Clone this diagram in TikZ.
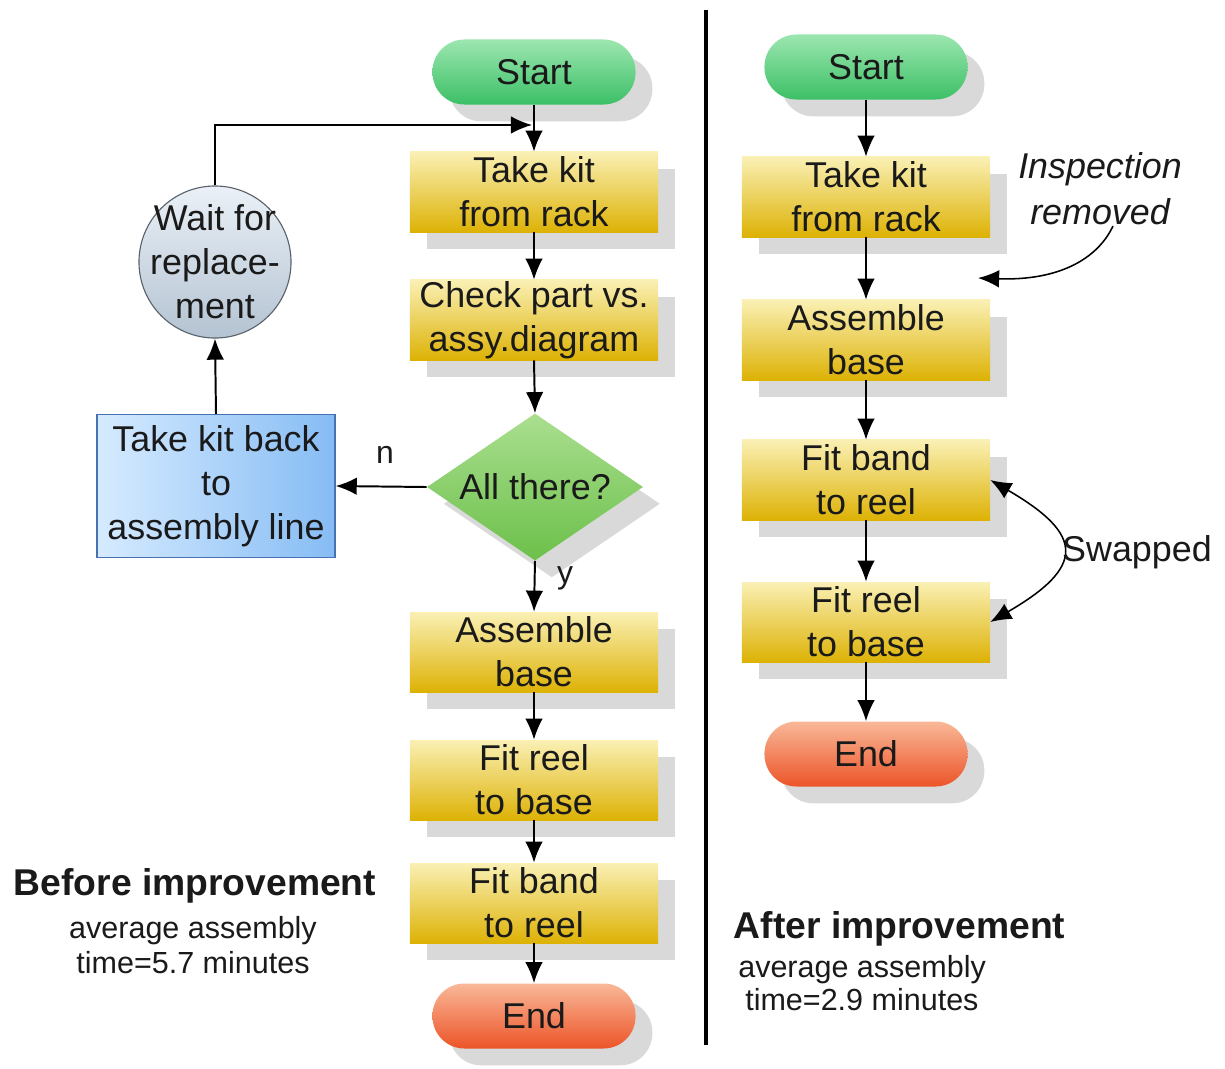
\documentclass[tikz,border=0pt]{standalone}
\usepackage{fontspec}
\setmainfont{Liberation Sans}
\usetikzlibrary{shapes.geometric,arrows.meta,shadows}
\definecolor{txt}{HTML}{1A1A1A}
\definecolor{ytop}{HTML}{FAF0B4}
\definecolor{ybot}{HTML}{DDB205}
\definecolor{gtop}{HTML}{9CE6B0}
\definecolor{gbot}{HTML}{3CC066}
\definecolor{rtop}{HTML}{F9B898}
\definecolor{rbot}{HTML}{EC5428}
\definecolor{btop}{HTML}{D6EBFF}
\definecolor{bbot}{HTML}{86BCF4}
\definecolor{bdraw}{HTML}{4672B4}
\definecolor{ctop}{HTML}{EAF0F6}
\definecolor{cbot}{HTML}{B4C3D2}
\definecolor{cdraw}{HTML}{5A636C}
\definecolor{dtop}{HTML}{AADF90}
\definecolor{dbot}{HTML}{6CC04A}
\definecolor{shadowc}{HTML}{D9D9D9}
\begin{document}
\begin{tikzpicture}[x=0.025cm,y=-0.025cm,
  every node/.style={font=\fontsize{25.5}{31.2}\selectfont, text=txt},
  arr/.style={draw=black, line width=1.4pt, -{Latex[length=15pt,width=12.5pt]}},
  shad/.style={drop shadow={shadow xshift=0.42cm, shadow yshift=-0.42cm, fill=shadowc, opacity=1}},
  ybox/.style={rectangle, minimum width=6.2cm, minimum height=2.0cm, inner sep=0pt,
               top color=ytop, bottom color=ybot, shad, align=center},
  pill/.style={rectangle, rounded corners=0.8cm, minimum width=5.075cm, minimum height=1.625cm,
               inner sep=0pt, shad},
  gpill/.style={pill, top color=gtop, bottom color=gbot},
  rpill/.style={pill, top color=rtop, bottom color=rbot},
  lbl/.style={font=\fontsize{22.7}{26}\selectfont},
]
\fill[white] (0,0) rectangle (1225,1068);

% divider
\coordinate (divtop) at (706,10);
\coordinate (divbot) at (706,1045);
\draw[line width=2.8pt] (divtop) -- (divbot);

% ---------- left (before) ----------
\node[gpill] (startL) at (534,72) {Start};
\node[ybox] (takeL) at (534,192) {Take kit\\from rack};
\node[ybox] (checkL) at (534,320) {Check part vs.\\assy.diagram};
\node[shape=diamond, minimum width=5.4cm, minimum height=3.675cm, inner sep=0pt,
      top color=dtop, bottom color=dbot, shad] (dia) at (535,487) {};
\node (diatext) at (535,487) {All there?};
\node[rectangle, minimum width=5.95cm, minimum height=3.575cm, inner sep=0pt,
      left color=btop, right color=bbot, draw=bdraw, line width=0.9pt, align=center]
      (backL) at (216,486) {Take kit back\\to\\assembly line};
\node[circle, minimum size=3.8cm, inner sep=0pt, top color=ctop, bottom color=cbot,
      draw=cdraw, line width=0.8pt] (waitL) at (215,262) {};
\node[align=center, inner sep=0pt] (waittext) at (215,262) {Wait for\\replace-\\ment};
\node[ybox] (asmL) at (534,652) {Assemble\\base};
\node[ybox] (reelL) at (534,780) {Fit reel\\to base};
\node[ybox] (bandL) at (534,903) {Fit band\\to reel};
\node[rpill] (endL) at (534,1016) {End};

\node[lbl] (nlab) at (385,455) {n};
\node[lbl] (ylab) at (565,578) {y};

\coordinate (loopend) at (532,125);
\draw[arr] (startL.south) -- (takeL.north);
\draw[arr] (takeL.south) -- (checkL.north);
\draw[arr] (checkL.south) -- (dia.north);
\draw[arr] (dia.west) -- (backL.east);
\draw[arr] (backL.north) -- (waitL.south);
\draw[arr, line width=1.2pt] (waitL.north) |- (loopend);
\draw[arr] (dia.south) -- (asmL.north);
\draw[arr] (asmL.south) -- (reelL.north);
\draw[arr] (reelL.south) -- (bandL.north);
\draw[arr] (bandL.south) -- (endL.north);

\node[font=\bfseries\fontsize{26.5}{31}\selectfont] (befT) at (195,886) {Before improvement};
\node[align=center, font=\fontsize{21.7}{24.8}\selectfont] (befS) at (193,945)
      {average assembly\\time=5.7 minutes};

% ---------- right (after) ----------
\node[gpill] (startR) at (866,67) {Start};
\node[ybox] (takeR) at (866,197) {Take kit\\from rack};
\node[ybox] (asmR) at (866,340) {Assemble\\base};
\node[ybox] (bandR) at (866,480) {Fit band\\to reel};
\node[ybox] (reelR) at (866,622) {Fit reel\\to base};
\node[rpill] (endR) at (866,754) {End};

\draw[arr] (startR.south) -- (takeR.north);
\draw[arr] (takeR.south) -- (asmR.north);
\draw[arr] (asmR.south) -- (bandR.north);
\draw[arr] (bandR.south) -- (reelR.north);
\draw[arr] (reelR.south) -- (endR.north);

\node[align=center, font=\itshape\fontsize{25.5}{32.6}\selectfont] (insp) at (1100,189)
      {Inspection\\removed};
\coordinate (inspstart) at (1113,226);
\coordinate (inspend) at (978,278);
\draw[arr, line width=1.1pt] (inspstart) .. controls (1098,258) and (1060,281) .. (inspend);

\draw[line width=1.1pt, {Latex[length=15pt,width=12.5pt]}-{Latex[length=15pt,width=12.5pt]}]
  (bandR.east) .. controls (1085,535) and (1085,567) .. (reelR.east);
\node (swap) at (1137,552) {Swapped};

\node[anchor=west, font=\bfseries\fontsize{26.5}{31}\selectfont] (aftT) at (729,929) {After improvement};
\node[anchor=north west, align=left, font=\fontsize{21.7}{23.4}\selectfont, inner sep=0pt] (aftS) at (738,955)
      {average assembly\\\hspace*{5pt}time=2.9 minutes};
\end{tikzpicture}
\end{document}
